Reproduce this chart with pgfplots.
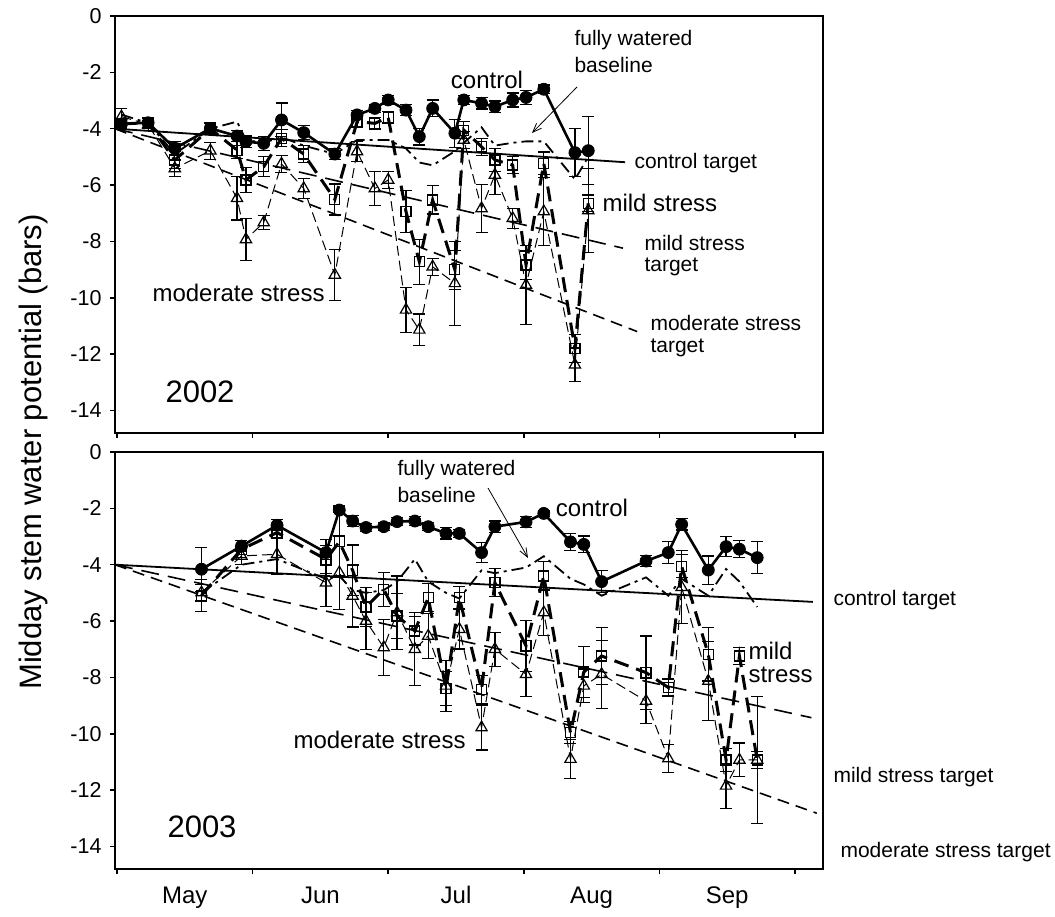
\documentclass[border=0pt]{standalone}
\usepackage{fontspec}
\setmainfont{Liberation Sans}
\usepackage{pgfplots}
\usepackage{pgfplotstable}
\pgfplotsset{compat=1.18}
\usetikzlibrary{arrows.meta}

\newcommand\ftick{\fontsize{21.5}{25}\selectfont}
\newcommand\fsmall{\fontsize{21}{25}\selectfont}
\newcommand\fbig{\fontsize{24}{28}\selectfont}
\newcommand\fyear{\fontsize{31}{35}\selectfont}
\newcommand\fmonth{\fontsize{24}{28}\selectfont}

% x = days after 1 May, y = bars, e = error
\pgfplotstableread{
x y e
1 -3.83 0.2
7 -3.79 0.2
13 -4.70 0.25
21 -3.99 0.2
27 -4.26 0.2
29 -4.46 0.2
33 -4.52 0.25
37 -3.69 0.6
42 -4.14 0.25
49 -4.90 0.2
54 -3.51 0.15
58 -3.28 0.15
61 -2.98 0.15
65 -3.34 0.2
68 -4.28 0.3
71 -3.28 0.3
76 -4.16 0.5
78 -2.98 0.15
82 -3.10 0.2
85 -3.22 0.2
89 -2.98 0.25
92 -2.89 0.25
96 -2.60 0.15
103 -4.85 0.85
106 -4.78 1.2
}\ctrlA
\pgfplotstableread{
x y e
1 -3.83 0.2
7 -3.79 0.2
13 -5.11 0.3
21 -4.00 0.2
27 -4.76 0.3
29 -5.82 0.45
33 -5.35 0.35
37 -4.34 0.3
42 -4.90 0.3
49 -6.51 0.55
54 -3.75 0.2
58 -3.81 0.2
61 -3.60 0.2
65 -6.94 0.75
68 -8.72 0.8
71 -6.53 0.5
76 -9.01 0.7
78 -4.05 0.3
82 -4.64 0.3
85 -5.11 0.4
89 -5.29 0.3
92 -8.84 0.5
96 -5.23 0.4
103 -11.80 0.5
106 -6.65 0.3
}\mildA
\pgfplotstableread{
x y e
1 -3.57 0.3
7 -3.85 0.2
13 -5.41 0.3
21 -4.78 0.3
27 -6.47 0.77
29 -7.93 0.75
33 -7.33 0.25
37 -5.25 0.3
42 -6.12 0.35
49 -9.19 0.9
54 -4.81 0.35
58 -6.12 0.6
61 -5.82 0.3
65 -10.43 0.8
68 -11.14 0.56
71 -8.90 0.3
76 -9.49 1.5
78 -4.40 0.3
82 -6.83 0.86
85 -5.64 0.7
89 -7.18 0.35
92 -9.55 1.4
96 -6.94 1.2
103 -12.38 0.6
106 -6.90 1.5
}\modA
\pgfplotstableread{
x y
1 -3.5
7 -3.8
13 -4.9
21 -4.0
27 -3.75
29 -4.4
33 -4.5
37 -4.3
42 -4.6
49 -4.9
54 -4.4
58 -4.4
61 -4.4
65 -4.7
68 -5.2
71 -5.3
76 -4.8
78 -4.5
82 -3.95
85 -4.6
89 -4.5
92 -4.45
96 -4.45
103 -5.8
106 -5.0
}\baseA
\pgfplotstableread{
x y e
19 -4.16 0.78
28 -3.34 0.2
36 -2.60 0.2
47 -3.57 0.47
50 -2.06 0.1
53 -2.45 0.2
56 -2.68 0.15
60 -2.65 0.15
63 -2.47 0.15
67 -2.45 0.15
70 -2.65 0.15
74 -2.89 0.2
77 -2.89 0.15
82 -3.57 0.35
85 -2.65 0.2
92 -2.48 0.2
96 -2.18 0.1
102 -3.19 0.3
105 -3.28 0.3
109 -4.60 0.4
119 -3.87 0.2
124 -3.57 0.4
127 -2.57 0.2
133 -4.19 0.5
137 -3.36 0.35
140 -3.45 0.3
144 -3.75 0.57
}\ctrlB
\pgfplotstableread{
x y e
19 -5.09 0.57
28 -3.45 0.3
36 -2.86 0.2
47 -3.81 0.5
50 -3.19 1.27
53 -4.20 0.9
56 -5.50 0.7
60 -4.87 0.6
63 -5.82 0.8
67 -6.35 0.5
70 -5.17 0.5
74 -8.40 0.6
77 -5.17 0.4
82 -8.42 0.5
85 -4.64 0.5
92 -6.88 0.9
96 -4.40 0.5
102 -9.96 0.4
105 -7.81 0.9
109 -7.24 1.0
119 -7.83 1.3
124 -8.36 0.3
127 -4.05 0.4
133 -7.18 0.95
137 -10.93 0.4
140 -7.24 0.3
144 -10.93 2.25
}\mildB
\pgfplotstableread{
x y e
19 -4.99 0.3
28 -3.69 0.3
36 -3.63 0.7
47 -4.64 0.83
50 -4.28 1.3
53 -5.11 1.1
56 -6.00 1.0
60 -6.94 1.0
63 -5.70 1.3
67 -7.00 1.3
70 -6.53 0.8
74 -8.30 0.9
77 -6.29 0.7
82 -9.78 0.8
85 -7.00 0.6
92 -7.89 0.8
96 -5.70 0.8
102 -10.90 0.7
105 -8.30 0.6
109 -7.89 1.2
119 -8.84 0.8
124 -10.88 0.5
127 -4.80 1.3
133 -8.13 1.4
137 -11.85 0.8
140 -10.93 0.6
144 -10.93 0.3
}\modB
\pgfplotstableread{
x y
19 -5.0
28 -4.0
36 -3.8
47 -4.5
50 -4.4
53 -4.9
56 -5.0
60 -4.9
63 -4.6
67 -3.8
70 -4.6
74 -5.0
77 -5.2
82 -4.2
85 -4.3
92 -4.1
96 -3.7
102 -4.5
105 -4.7
109 -5.1
119 -4.45
124 -5.1
127 -4.5
133 -5.1
137 -4.15
140 -4.6
144 -5.5
}\baseB

\pgfplotsset{
  panel/.style={scale only axis, width=708pt, height=417pt,
    xmin=-0.45, xmax=158.8, ymin=-14.8, ymax=0,
    ytick={-14,-12,-10,-8,-6,-4,-2,0},
    yticklabels={-14,-12,-10,-8,-6,-4,-2,0},
    xtick={0,30.5,61,91.5,122,152.5}, xticklabels={},
    tick align=outside, tick pos=left, major tick length=5pt,
    every tick/.style={black, line width=1.5pt},
    tick label style={font=\ftick},
    yticklabel style={xshift=-5pt}},
  ebar/.style={error bars/.cd, y dir=both, y explicit,
    error bar style={line width=1.2pt, solid, black},
    error mark options={rotate=90, line width=1.2pt, mark size=6pt, solid, black}},
  ctrl/.style={black, line width=2.6pt, solid, mark=*, mark size=6pt,
    mark options={solid, fill=black, line width=0.8pt}, ebar},
  mild/.style={black, line width=3pt, dash pattern=on 15pt off 8pt, mark=square,
    mark size=5pt, mark options={solid, line width=1.2pt}, ebar},
  mod/.style={black, line width=1pt, dash pattern=on 10pt off 5pt, mark=triangle,
    mark size=6.5pt, mark options={solid, line width=1.2pt}, ebar},
  base/.style={black, line width=1.8pt, dash pattern=on 12pt off 5pt on 3pt off 5pt, no markers},
  ctgt/.style={black, line width=1.8pt, solid, no markers},
  mtgt/.style={black, line width=1.6pt, dash pattern=on 18pt off 9pt, no markers},
  dtgt/.style={black, line width=1.6pt, dash pattern=on 12pt off 7pt, no markers},
}

\begin{document}
\begin{tikzpicture}
% ---------- 2002 ----------
\begin{axis}[panel, at={(115pt,483pt)}, anchor=south west]
\addplot[ctgt] coordinates {(-0.45,-4) (114.3,-5.19)};
\addplot[mtgt] coordinates {(-0.45,-4) (113.8,-8.24)};
\addplot[dtgt] coordinates {(-0.45,-4) (117,-11.2)};
\addplot[base] table[x=x,y=y] {\baseA};
\addplot[mod] table[x=x,y=y,y error=e] {\modA};
\addplot[mild] table[x=x,y=y,y error=e] {\mildA};
\addplot[ctrl] table[x=x,y=y,y error=e] {\ctrlA};
\end{axis}
% ---------- 2003 ----------
\begin{axis}[panel, at={(115pt,47pt)}, anchor=south west,
  extra x ticks={15.25,45.75,76.25,106.75,137.25},
  extra x tick labels={May,Jun,Jul,Aug,Sep},
  extra x tick style={major tick length=0pt, tick label style={font=\fmonth, yshift=-14pt}}]
\addplot[ctgt] coordinates {(-0.45,-4) (156.5,-5.32)};
\addplot[mtgt] coordinates {(-0.45,-4) (156.2,-9.43)};
\addplot[dtgt] coordinates {(-0.45,-4) (157.4,-12.82)};
\addplot[base] table[x=x,y=y] {\baseB};
\addplot[mod] table[x=x,y=y,y error=e] {\modB};
\addplot[mild] table[x=x,y=y,y error=e] {\mildB};
\addplot[ctrl] table[x=x,y=y,y error=e] {\ctrlB};
\end{axis}

% thick panel frames
\draw[line width=2.6pt, line join=miter] (115pt,483pt) rectangle (823pt,900pt);
\draw[line width=2.6pt, line join=miter] (115pt,47pt) rectangle (823pt,464pt);

% y label
\node[rotate=90, font=\fontsize{31}{35}\selectfont] at (33pt,464pt) {Midday stem water potential (bars)};

% 2002 annotations
\node[font=\fbig] at (487pt,836pt) {control};
\node[font=\fsmall, anchor=west] at (571pt,876pt) {fully watered};
\node[font=\fsmall, anchor=west] at (571pt,851pt) {baseline};
\draw[line width=0.8pt, -{Straight Barb[length=9pt,width=7pt]}] (577pt,829pt) -- (532pt,783pt);
\node[font=\fsmall, anchor=west] at (631pt,753pt) {control target};
\node[font=\fbig, anchor=west] at (599pt,713pt) {mild stress};
\node[font=\fsmall, anchor=west] at (641pt,673pt) {mild stress};
\node[font=\fsmall, anchor=west] at (641pt,649pt) {target};
\node[font=\fsmall, anchor=west] at (647pt,593pt) {moderate stress};
\node[font=\fsmall, anchor=west] at (647pt,568pt) {target};
\node[font=\fbig, anchor=west] at (149pt,623pt) {moderate stress};
\node[font=\fyear, anchor=west] at (162pt,524pt) {2002};

% 2003 annotations
\node[font=\fsmall, anchor=west] at (394pt,446pt) {fully watered};
\node[font=\fsmall, anchor=west] at (394pt,421pt) {baseline};
\draw[line width=0.8pt, -{Straight Barb[length=9pt,width=7pt]}] (488pt,428pt) -- (528pt,358pt);
\node[font=\fbig] at (592pt,408pt) {control};
\node[font=\fsmall, anchor=west] at (830pt,316pt) {control target};
\node[font=\fbig, anchor=west] at (745pt,265pt) {mild};
\node[font=\fbig, anchor=west] at (745pt,241pt) {stress};
\node[font=\fsmall, anchor=west] at (830pt,139pt) {mild stress target};
\node[font=\fsmall, anchor=west] at (837pt,64pt) {moderate stress target};
\node[font=\fbig, anchor=west] at (290pt,176pt) {moderate stress};
\node[font=\fyear, anchor=west] at (164pt,89pt) {2003};

\pgfresetboundingbox
\path[use as bounding box] (0pt,0pt) rectangle (1055pt,916pt);
\end{tikzpicture}
\end{document}
